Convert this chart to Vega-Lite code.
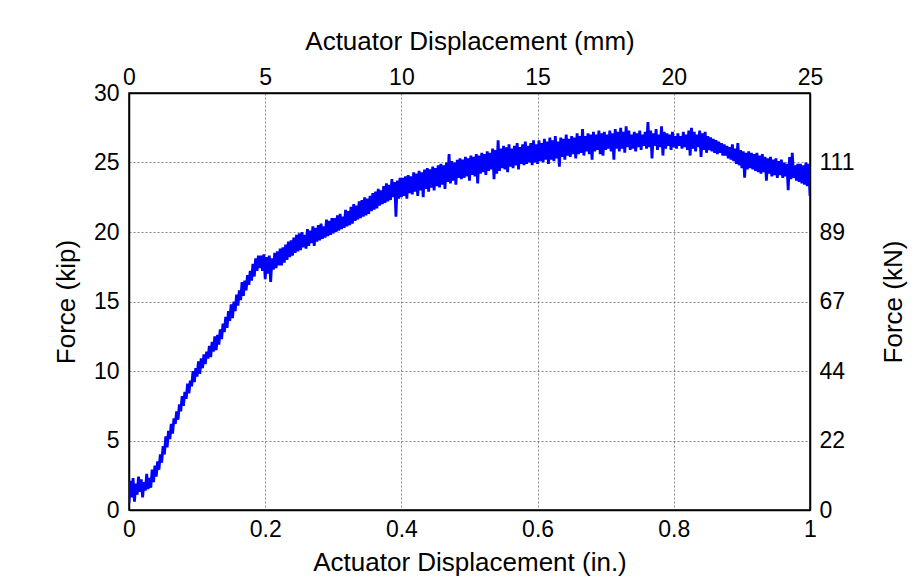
{
  "$schema": "https://vega.github.io/schema/vega-lite/v6.json",
  "width": 681,
  "height": 417,
  "autosize": {"type": "none"},
  "padding": {"left": 129, "top": 93, "right": 109, "bottom": 75},
  "background": "white",
  "config": {
    "font": "Liberation Sans",
    "view": {"stroke": "black", "strokeWidth": 1.5},
    "axis": {
      "labelFont": "Liberation Sans",
      "titleFont": "Liberation Sans",
      "labelFontSize": 23,
      "titleFontSize": 26,
      "titleFontWeight": "normal",
      "labelColor": "black",
      "titleColor": "black",
      "domainColor": "black",
      "domainWidth": 1.5,
      "tickColor": "black",
      "tickSize": 0,
      "labelFlush": false,
      "labelOverlap": false,
      "gridColor": "#444444",
      "gridDash": [2, 2],
      "gridWidth": 0.8,
      "gridOpacity": 0.8
    }
  },
  "data": {"values": [
    {"d":0.000,"F":0.5},{"d":0.002,"F":2.1},{"d":0.004,"F":0.9},{"d":0.006,"F":2.3},{"d":0.008,"F":0.6},
    {"d":0.010,"F":1.9},{"d":0.012,"F":1.1},{"d":0.014,"F":2.4},{"d":0.016,"F":1.3},{"d":0.018,"F":2.2},
    {"d":0.020,"F":0.9},{"d":0.022,"F":2.0},{"d":0.024,"F":1.4},{"d":0.026,"F":2.6},{"d":0.028,"F":1.5},
    {"d":0.030,"F":2.3},{"d":0.032,"F":1.6},{"d":0.034,"F":2.9},{"d":0.036,"F":2.0},{"d":0.038,"F":3.2},
    {"d":0.040,"F":2.4},{"d":0.042,"F":3.5},{"d":0.044,"F":2.9},{"d":0.046,"F":4.0},{"d":0.048,"F":3.4},
    {"d":0.050,"F":4.6},{"d":0.052,"F":4.0},{"d":0.054,"F":5.3},{"d":0.056,"F":4.5},{"d":0.058,"F":5.7},
    {"d":0.060,"F":5.1},{"d":0.062,"F":6.2},{"d":0.064,"F":5.5},{"d":0.066,"F":6.6},{"d":0.068,"F":6.2},
    {"d":0.070,"F":7.1},{"d":0.072,"F":6.5},{"d":0.074,"F":7.6},{"d":0.076,"F":7.1},{"d":0.078,"F":8.2},
    {"d":0.080,"F":7.5},{"d":0.082,"F":8.5},{"d":0.084,"F":8.0},{"d":0.086,"F":9.1},{"d":0.088,"F":8.4},
    {"d":0.090,"F":9.3},{"d":0.092,"F":8.9},{"d":0.094,"F":10.0},{"d":0.096,"F":9.2},{"d":0.098,"F":10.2},
    {"d":0.100,"F":9.6},{"d":0.102,"F":10.7},{"d":0.104,"F":9.8},{"d":0.106,"F":10.9},{"d":0.108,"F":10.2},
    {"d":0.110,"F":11.2},{"d":0.112,"F":10.5},{"d":0.114,"F":11.4},{"d":0.116,"F":10.9},{"d":0.118,"F":11.8},
    {"d":0.120,"F":11.0},{"d":0.122,"F":12.1},{"d":0.124,"F":11.4},{"d":0.126,"F":12.5},{"d":0.128,"F":11.5},
    {"d":0.130,"F":12.6},{"d":0.132,"F":11.9},{"d":0.134,"F":13.0},{"d":0.136,"F":12.3},{"d":0.138,"F":13.4},
    {"d":0.140,"F":12.8},{"d":0.142,"F":13.9},{"d":0.144,"F":13.1},{"d":0.146,"F":14.3},{"d":0.148,"F":13.6},
    {"d":0.150,"F":14.8},{"d":0.152,"F":13.8},{"d":0.154,"F":15.0},{"d":0.156,"F":14.3},{"d":0.158,"F":15.5},
    {"d":0.160,"F":14.7},{"d":0.162,"F":15.8},{"d":0.164,"F":15.1},{"d":0.166,"F":16.4},{"d":0.168,"F":15.4},
    {"d":0.170,"F":16.5},{"d":0.172,"F":15.8},{"d":0.174,"F":16.9},{"d":0.176,"F":16.2},{"d":0.178,"F":17.2},
    {"d":0.180,"F":16.5},{"d":0.182,"F":17.7},{"d":0.184,"F":16.8},{"d":0.186,"F":18.1},{"d":0.188,"F":17.2},
    {"d":0.190,"F":18.3},{"d":0.192,"F":17.4},{"d":0.194,"F":18.3},{"d":0.196,"F":17.2},{"d":0.198,"F":18.4},
    {"d":0.200,"F":16.6},{"d":0.202,"F":18.2},{"d":0.204,"F":17.0},{"d":0.206,"F":18.3},{"d":0.208,"F":16.4},
    {"d":0.210,"F":18.1},{"d":0.212,"F":17.3},{"d":0.214,"F":18.5},{"d":0.216,"F":17.4},{"d":0.218,"F":18.6},
    {"d":0.220,"F":17.6},{"d":0.222,"F":18.8},{"d":0.224,"F":17.6},{"d":0.226,"F":18.9},{"d":0.228,"F":17.8},
    {"d":0.230,"F":19.1},{"d":0.232,"F":18.0},{"d":0.234,"F":19.3},{"d":0.236,"F":18.2},{"d":0.238,"F":19.4},
    {"d":0.240,"F":18.3},{"d":0.242,"F":19.6},{"d":0.244,"F":18.5},{"d":0.246,"F":19.8},{"d":0.248,"F":18.6},
    {"d":0.250,"F":19.9},{"d":0.252,"F":18.7},{"d":0.254,"F":20.0},{"d":0.256,"F":18.9},{"d":0.258,"F":19.8},
    {"d":0.260,"F":18.8},{"d":0.262,"F":20.2},{"d":0.264,"F":19.0},{"d":0.266,"F":20.1},{"d":0.268,"F":19.2},
    {"d":0.270,"F":20.4},{"d":0.272,"F":19.0},{"d":0.274,"F":20.3},{"d":0.276,"F":19.3},{"d":0.278,"F":20.5},
    {"d":0.280,"F":19.4},{"d":0.282,"F":20.6},{"d":0.284,"F":19.5},{"d":0.286,"F":20.4},{"d":0.288,"F":19.6},
    {"d":0.290,"F":20.9},{"d":0.292,"F":19.7},{"d":0.294,"F":20.8},{"d":0.296,"F":19.8},{"d":0.298,"F":21.0},
    {"d":0.300,"F":19.9},{"d":0.302,"F":21.0},{"d":0.304,"F":20.0},{"d":0.306,"F":21.2},{"d":0.308,"F":20.1},
    {"d":0.310,"F":21.3},{"d":0.312,"F":20.2},{"d":0.314,"F":21.1},{"d":0.316,"F":20.3},{"d":0.318,"F":21.6},
    {"d":0.320,"F":20.4},{"d":0.322,"F":21.5},{"d":0.324,"F":20.5},{"d":0.326,"F":21.8},{"d":0.328,"F":20.6},
    {"d":0.330,"F":22.0},{"d":0.332,"F":20.8},{"d":0.334,"F":21.9},{"d":0.336,"F":20.9},{"d":0.338,"F":22.2},
    {"d":0.340,"F":21.0},{"d":0.342,"F":22.3},{"d":0.344,"F":21.1},{"d":0.346,"F":22.5},{"d":0.348,"F":21.2},
    {"d":0.350,"F":22.4},{"d":0.352,"F":21.3},{"d":0.354,"F":22.6},{"d":0.356,"F":21.5},{"d":0.358,"F":22.8},
    {"d":0.360,"F":21.6},{"d":0.362,"F":22.9},{"d":0.364,"F":21.7},{"d":0.366,"F":23.1},{"d":0.368,"F":21.9},
    {"d":0.370,"F":23.0},{"d":0.372,"F":22.0},{"d":0.374,"F":23.3},{"d":0.376,"F":22.1},{"d":0.378,"F":23.5},
    {"d":0.380,"F":22.2},{"d":0.382,"F":23.4},{"d":0.384,"F":22.3},{"d":0.386,"F":23.8},{"d":0.388,"F":22.5},
    {"d":0.390,"F":23.6},{"d":0.392,"F":21.1},{"d":0.394,"F":23.7},{"d":0.396,"F":22.4},{"d":0.398,"F":23.9},
    {"d":0.400,"F":22.5},{"d":0.402,"F":23.9},{"d":0.404,"F":22.6},{"d":0.406,"F":24.0},{"d":0.408,"F":22.4},
    {"d":0.410,"F":24.1},{"d":0.412,"F":22.8},{"d":0.414,"F":24.0},{"d":0.416,"F":22.7},{"d":0.418,"F":24.3},
    {"d":0.420,"F":22.9},{"d":0.422,"F":24.2},{"d":0.424,"F":22.6},{"d":0.426,"F":24.4},{"d":0.428,"F":23.0},
    {"d":0.430,"F":24.3},{"d":0.432,"F":22.5},{"d":0.434,"F":24.5},{"d":0.436,"F":23.1},{"d":0.438,"F":24.6},
    {"d":0.440,"F":22.9},{"d":0.442,"F":24.5},{"d":0.444,"F":23.2},{"d":0.446,"F":24.7},{"d":0.448,"F":23.0},
    {"d":0.450,"F":24.6},{"d":0.452,"F":23.3},{"d":0.454,"F":24.8},{"d":0.456,"F":23.2},{"d":0.458,"F":24.9},
    {"d":0.460,"F":23.4},{"d":0.462,"F":24.8},{"d":0.464,"F":23.1},{"d":0.466,"F":25.0},{"d":0.468,"F":23.6},
    {"d":0.470,"F":25.6},{"d":0.472,"F":23.5},{"d":0.474,"F":25.1},{"d":0.476,"F":23.7},{"d":0.478,"F":25.0},
    {"d":0.480,"F":23.4},{"d":0.482,"F":25.2},{"d":0.484,"F":23.9},{"d":0.486,"F":25.3},{"d":0.488,"F":23.8},
    {"d":0.490,"F":25.2},{"d":0.492,"F":23.9},{"d":0.494,"F":25.4},{"d":0.496,"F":24.0},{"d":0.498,"F":25.3},
    {"d":0.500,"F":23.7},{"d":0.502,"F":25.5},{"d":0.504,"F":24.1},{"d":0.506,"F":25.4},{"d":0.508,"F":24.0},
    {"d":0.510,"F":25.6},{"d":0.512,"F":23.5},{"d":0.514,"F":25.5},{"d":0.516,"F":24.2},{"d":0.518,"F":25.7},
    {"d":0.520,"F":24.3},{"d":0.522,"F":25.6},{"d":0.524,"F":24.1},{"d":0.526,"F":25.8},{"d":0.528,"F":24.4},
    {"d":0.530,"F":25.7},{"d":0.532,"F":24.5},{"d":0.534,"F":26.0},{"d":0.536,"F":23.8},{"d":0.538,"F":25.9},
    {"d":0.540,"F":24.2},{"d":0.542,"F":26.6},{"d":0.544,"F":24.4},{"d":0.546,"F":26.0},{"d":0.548,"F":24.6},
    {"d":0.550,"F":26.2},{"d":0.552,"F":24.5},{"d":0.554,"F":26.1},{"d":0.556,"F":24.3},{"d":0.558,"F":26.3},
    {"d":0.560,"F":24.7},{"d":0.562,"F":26.0},{"d":0.564,"F":24.6},{"d":0.566,"F":26.2},{"d":0.568,"F":24.8},
    {"d":0.570,"F":26.4},{"d":0.572,"F":24.5},{"d":0.574,"F":26.1},{"d":0.576,"F":24.9},{"d":0.578,"F":26.3},
    {"d":0.580,"F":24.8},{"d":0.582,"F":26.5},{"d":0.584,"F":24.9},{"d":0.586,"F":26.2},{"d":0.588,"F":25.0},
    {"d":0.590,"F":26.4},{"d":0.592,"F":24.8},{"d":0.594,"F":26.6},{"d":0.596,"F":25.0},{"d":0.598,"F":26.3},
    {"d":0.600,"F":24.9},{"d":0.602,"F":26.6},{"d":0.604,"F":25.1},{"d":0.606,"F":26.4},{"d":0.608,"F":25.0},
    {"d":0.610,"F":26.7},{"d":0.612,"F":25.2},{"d":0.614,"F":26.5},{"d":0.616,"F":24.9},{"d":0.618,"F":26.8},
    {"d":0.620,"F":25.2},{"d":0.622,"F":26.6},{"d":0.624,"F":25.1},{"d":0.626,"F":26.9},{"d":0.628,"F":25.3},
    {"d":0.630,"F":26.5},{"d":0.632,"F":24.7},{"d":0.634,"F":26.8},{"d":0.636,"F":25.4},{"d":0.638,"F":26.7},
    {"d":0.640,"F":25.2},{"d":0.642,"F":27.0},{"d":0.644,"F":25.5},{"d":0.646,"F":26.7},{"d":0.648,"F":25.4},
    {"d":0.650,"F":26.9},{"d":0.652,"F":25.6},{"d":0.654,"F":26.8},{"d":0.656,"F":25.3},{"d":0.658,"F":27.1},
    {"d":0.660,"F":25.6},{"d":0.662,"F":26.9},{"d":0.664,"F":25.7},{"d":0.666,"F":27.4},{"d":0.668,"F":25.5},
    {"d":0.670,"F":26.9},{"d":0.672,"F":25.8},{"d":0.674,"F":27.1},{"d":0.676,"F":25.6},{"d":0.678,"F":27.0},
    {"d":0.680,"F":25.2},{"d":0.682,"F":27.2},{"d":0.684,"F":25.8},{"d":0.686,"F":27.0},{"d":0.688,"F":25.9},
    {"d":0.690,"F":27.3},{"d":0.692,"F":25.6},{"d":0.694,"F":27.1},{"d":0.696,"F":25.5},{"d":0.698,"F":27.2},
    {"d":0.700,"F":25.9},{"d":0.702,"F":27.0},{"d":0.704,"F":26.0},{"d":0.706,"F":27.3},{"d":0.708,"F":25.8},
    {"d":0.710,"F":27.1},{"d":0.712,"F":25.2},{"d":0.714,"F":27.4},{"d":0.716,"F":26.0},{"d":0.718,"F":27.2},
    {"d":0.720,"F":25.8},{"d":0.722,"F":27.5},{"d":0.724,"F":26.0},{"d":0.726,"F":27.2},{"d":0.728,"F":25.7},
    {"d":0.730,"F":27.6},{"d":0.732,"F":26.1},{"d":0.734,"F":27.3},{"d":0.736,"F":25.9},{"d":0.738,"F":27.0},
    {"d":0.740,"F":26.0},{"d":0.742,"F":27.2},{"d":0.744,"F":25.8},{"d":0.746,"F":27.1},{"d":0.748,"F":26.1},
    {"d":0.750,"F":27.3},{"d":0.752,"F":25.9},{"d":0.754,"F":27.0},{"d":0.756,"F":26.2},{"d":0.758,"F":27.2},
    {"d":0.760,"F":26.0},{"d":0.762,"F":27.9},{"d":0.764,"F":26.1},{"d":0.766,"F":27.3},{"d":0.768,"F":25.3},
    {"d":0.770,"F":27.1},{"d":0.772,"F":26.2},{"d":0.774,"F":27.4},{"d":0.776,"F":25.9},{"d":0.778,"F":27.0},
    {"d":0.780,"F":26.1},{"d":0.782,"F":27.6},{"d":0.784,"F":25.5},{"d":0.786,"F":27.2},{"d":0.788,"F":26.0},
    {"d":0.790,"F":27.1},{"d":0.792,"F":26.2},{"d":0.794,"F":27.0},{"d":0.796,"F":25.9},{"d":0.798,"F":27.2},
    {"d":0.800,"F":26.1},{"d":0.802,"F":26.9},{"d":0.804,"F":26.0},{"d":0.806,"F":27.1},{"d":0.808,"F":26.2},
    {"d":0.810,"F":26.9},{"d":0.812,"F":26.0},{"d":0.814,"F":27.2},{"d":0.816,"F":26.1},{"d":0.818,"F":27.0},
    {"d":0.820,"F":25.9},{"d":0.822,"F":27.3},{"d":0.824,"F":25.5},{"d":0.826,"F":27.5},{"d":0.828,"F":26.0},
    {"d":0.830,"F":27.2},{"d":0.832,"F":25.8},{"d":0.834,"F":27.0},{"d":0.836,"F":26.1},{"d":0.838,"F":27.3},
    {"d":0.840,"F":25.4},{"d":0.842,"F":27.1},{"d":0.844,"F":25.9},{"d":0.846,"F":27.2},{"d":0.848,"F":25.7},
    {"d":0.850,"F":26.9},{"d":0.852,"F":25.9},{"d":0.854,"F":26.8},{"d":0.856,"F":25.8},{"d":0.858,"F":26.7},
    {"d":0.860,"F":25.7},{"d":0.862,"F":26.6},{"d":0.864,"F":25.6},{"d":0.866,"F":26.5},{"d":0.868,"F":25.7},
    {"d":0.870,"F":26.4},{"d":0.872,"F":25.5},{"d":0.874,"F":26.3},{"d":0.876,"F":25.5},{"d":0.878,"F":26.2},
    {"d":0.880,"F":25.3},{"d":0.882,"F":26.1},{"d":0.884,"F":25.2},{"d":0.886,"F":26.3},{"d":0.888,"F":25.1},
    {"d":0.890,"F":26.0},{"d":0.892,"F":24.9},{"d":0.894,"F":26.4},{"d":0.896,"F":24.8},{"d":0.898,"F":25.9},
    {"d":0.900,"F":24.6},{"d":0.902,"F":25.8},{"d":0.904,"F":23.9},{"d":0.906,"F":25.7},{"d":0.908,"F":24.5},
    {"d":0.910,"F":25.8},{"d":0.912,"F":24.6},{"d":0.914,"F":25.7},{"d":0.916,"F":24.5},{"d":0.918,"F":25.6},
    {"d":0.920,"F":24.4},{"d":0.922,"F":25.7},{"d":0.924,"F":24.3},{"d":0.926,"F":25.5},{"d":0.928,"F":24.2},
    {"d":0.930,"F":25.6},{"d":0.932,"F":24.3},{"d":0.934,"F":25.4},{"d":0.936,"F":23.7},{"d":0.938,"F":25.3},
    {"d":0.940,"F":24.2},{"d":0.942,"F":25.4},{"d":0.944,"F":24.0},{"d":0.946,"F":25.2},{"d":0.948,"F":24.1},
    {"d":0.950,"F":25.3},{"d":0.952,"F":23.9},{"d":0.954,"F":25.1},{"d":0.956,"F":24.1},{"d":0.958,"F":25.2},
    {"d":0.960,"F":23.9},{"d":0.962,"F":25.0},{"d":0.964,"F":24.0},{"d":0.966,"F":24.9},{"d":0.968,"F":23.0},
    {"d":0.970,"F":25.4},{"d":0.972,"F":23.8},{"d":0.974,"F":25.7},{"d":0.976,"F":23.9},{"d":0.978,"F":24.8},
    {"d":0.980,"F":23.7},{"d":0.982,"F":24.9},{"d":0.984,"F":23.6},{"d":0.986,"F":24.9},{"d":0.988,"F":23.5},
    {"d":0.990,"F":24.8},{"d":0.992,"F":23.4},{"d":0.994,"F":25.0},{"d":0.996,"F":23.3},{"d":0.998,"F":24.9},
    {"d":1.000,"F":22.6}
  ]},
  "layer": [
    {
      "mark": {"type": "line", "color": "#0000FF", "strokeWidth": 2.8, "clip": true},
      "encoding": {
        "x": {"field": "d", "type": "quantitative", "scale": {"domain": [0, 1], "nice": false},
              "axis": {"orient": "bottom", "values": [0, 0.2, 0.4, 0.6, 0.8, 1], "format": "~g", "title": "Actuator Displacement (in.)", "labelPadding": 8, "titlePadding": 8, "grid": true}},
        "y": {"field": "F", "type": "quantitative", "scale": {"domain": [0, 30], "nice": false},
              "axis": {"orient": "left", "values": [0, 5, 10, 15, 20, 25, 30], "title": "Force (kip)", "labelPadding": 10, "titlePadding": 14, "grid": true}}
      }
    },
    {
      "mark": {"type": "point", "opacity": 0},
      "encoding": {
        "x": {"field": "d", "type": "quantitative", "scale": {"domain": [0, 1], "nice": false},
              "axis": {"orient": "top", "values": [0, 0.2, 0.4, 0.6, 0.8, 1], "labelExpr": "format(datum.value*25, 'd')", "title": "Actuator Displacement (mm)", "labelPadding": 4, "titlePadding": 12, "grid": false}},
        "y": {"field": "F", "type": "quantitative", "scale": {"domain": [0, 30], "nice": false},
              "axis": {"orient": "right", "values": [0, 5, 10, 15, 20, 25], "labelExpr": "format(datum.value*4.448, '.0f')", "title": "Force (kN)", "titleAngle": 270, "titleBaseline": "bottom", "labelPadding": 9, "titlePadding": 53, "grid": false}}
      }
    }
  ],
  "resolve": {"axis": {"x": "independent", "y": "independent"}}
}
